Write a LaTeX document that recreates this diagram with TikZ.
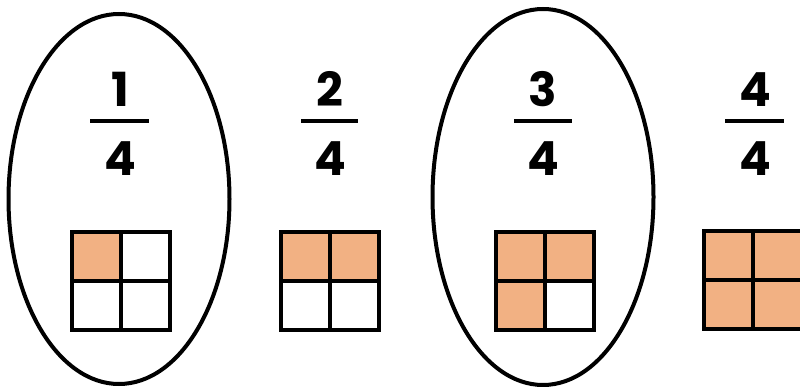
\documentclass[tikz,border=0pt]{standalone}
\usepackage{fontspec}
\setmainfont{Poppins}
\usetikzlibrary{shapes.geometric}
\definecolor{peach}{HTML}{F2B183}
\tikzset{
  x=1pt,y=-1pt,
  ring/.style={ellipse,draw=black,line width=4pt,inner sep=0pt},
  digit/.style={font=\fontsize{47}{47}\selectfont\bfseries,inner sep=0pt,anchor=base},
  bar/.style={line width=4.5pt},
  cellon/.style={fill=peach},
  gridline/.style={line width=4.8pt,line cap=rect}
}
\newcommand{\quadgrid}[5]{% center x, center y, cells on: tl tr bl
  \begin{scope}[shift={(#1,#2)}]
  \ifnum#3=1 \fill[cellon] (-50,-50) rectangle (0,0);\fi
  \ifnum#4=1 \fill[cellon] (0,-50) rectangle (50,0);\fi
  \ifnum#5=1 \fill[cellon] (-50,0) rectangle (0,50);\fi
  \draw[gridline] (-49,-49) rectangle (49,49);
  \draw[gridline] (0,-49) -- (0,49);
  \draw[gridline] (-49,0) -- (49,0);
  \end{scope}}
\begin{document}
\begin{tikzpicture}
\useasboundingbox (0,0) rectangle (800,387);
\fill[white] (0,0) rectangle (800,387);
% ellipses
\node[ring,minimum width=221,minimum height=370] (e1) at (119,199) {};
\node[ring,minimum width=221,minimum height=376] (e3) at (543,197) {};
% fractions
\node[digit] (n1) at (120,107) {1};
\draw[bar] (90,121) -- (149,121);
\node[digit] (d1) at (120,176) {4};
\node[digit] (n2) at (330,107) {2};
\draw[bar] (301,121) -- (358,121);
\node[digit] (d2) at (330,176) {4};
\node[digit] (n3) at (543,107) {3};
\draw[bar] (514,121) -- (572,121);
\node[digit] (d3) at (543,176) {4};
\node[digit] (n4) at (755,107) {4};
\draw[bar] (725,121) -- (784,121);
\node[digit] (d4) at (755,176) {4};
% grids
\quadgrid{121}{281}{1}{0}{0}
\quadgrid{330}{281}{1}{1}{0}
\quadgrid{545}{281}{1}{1}{1}
\begin{scope}[shift={(753,280)}]
  \fill[cellon] (-50,-50) rectangle (50,50);
  \draw[gridline] (-49,-49) rectangle (49,49);
  \draw[gridline] (0,-49) -- (0,49);
  \draw[gridline] (-49,0) -- (49,0);
\end{scope}
\end{tikzpicture}
\end{document}
